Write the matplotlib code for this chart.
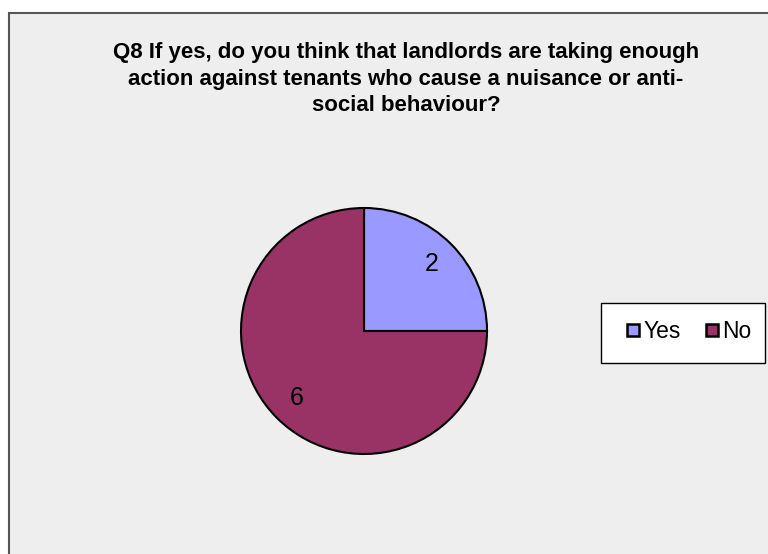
import matplotlib
matplotlib.use("Agg")
import matplotlib.pyplot as plt
from matplotlib.patches import Rectangle
from matplotlib.lines import Line2D

categories = ["Yes", "No"]
values = [2, 6]
colors = ["#9999FF", "#993366"]
title = ("Q8 If yes, do you think that landlords are taking enough\n"
         "action against tenants who cause a nuisance or anti-\n"
         "social behaviour?")

W, H = 768, 554
fig = plt.figure(figsize=(W / 100, H / 100), dpi=100)
fig.patch.set_facecolor("white")

# Full-figure axes in pixel units (y measured from bottom)
ax = fig.add_axes([0, 0, 1, 1])

total = sum(values)
wedges, texts, autotexts = ax.pie(
    values, colors=colors, startangle=90, counterclock=False,
    center=(364, H - 331), radius=123, frame=True,
    autopct=lambda p: f"{round(p * total / 100)}", pctdistance=0.775,
    wedgeprops=dict(edgecolor="black", linewidth=1.5),
    textprops=dict(fontsize=18, family="Liberation Sans"))
ax.set_xlim(0, W)
ax.set_ylim(0, H)
ax.set_aspect("equal")
ax.axis("off")

# Chart area panel
ax.add_patch(Rectangle((8.5, -5), W + 10, H - 12.5 + 5, facecolor="#EEEEEE",
                       edgecolor="#555555", linewidth=1.5, zorder=0))

ax.text(406, H - 79, title, ha="center", va="center", fontsize=16,
        fontweight="bold", family="Liberation Sans", linespacing=1.33,
        color="black")

# Legend box
ax.add_patch(Rectangle((600.5, H - 362.5), 164, 60, facecolor="white",
                       edgecolor="black", linewidth=1.0, zorder=1))

handles = [Line2D([], [], marker="s", linestyle="none", markersize=8.5,
                  markerfacecolor=c, markeredgecolor="black", markeredgewidth=1.8)
           for c in colors]
leg = fig.legend(handles, categories, loc="center", ncol=2,
                 bbox_to_anchor=(689 / W, 1 - 332 / H),
                 prop=dict(family="Liberation Sans", size=16.5),
                 frameon=False, handlelength=0.6, handletextpad=0.15,
                 columnspacing=1.04, borderpad=0.0)

fig.savefig("out.png", dpi=100, facecolor=fig.get_facecolor())
